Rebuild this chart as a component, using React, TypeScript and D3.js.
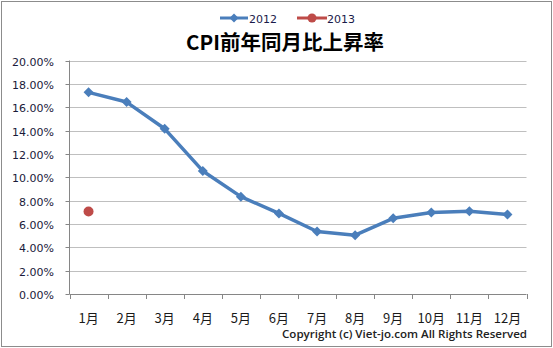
import React from "react";
import * as d3 from "d3";

const months = ["1月", "2月", "3月", "4月", "5月", "6月", "7月", "8月", "9月", "10月", "11月", "12月"];
const cpi2012 = [17.27, 16.44, 14.15, 10.54, 8.34, 6.9, 5.35, 5.04, 6.48, 6.98, 7.08, 6.81];
const cpi2013: (number | null)[] = [7.07, null, null, null, null, null, null, null, null, null, null, null];
const yTicks = [0, 2, 4, 6, 8, 10, 12, 14, 16, 18, 20];
const seriesNames = ["2012", "2013"];

const W = 553, H = 348;
const left = 69.5, right = 526.5, top = 60.5, bottom = 294;

export default function App() {
  const x = d3.scaleBand<string>().domain(months).range([left, right]);
  const y = d3.scaleLinear().domain([0, 20]).range([bottom, top]);
  const line = d3
    .line<number>()
    .x((_, i) => (x(months[i]) as number) + x.bandwidth() / 2)
    .y((d) => y(d));
  const cx = (i: number) => (x(months[i]) as number) + x.bandwidth() / 2;
  const blue = "#4a7ebb";
  const red = "#be4b48";
  const font = "'DejaVu Sans', Verdana, sans-serif";
  const diamond = (px: number, py: number, r = 5) =>
    `M${px},${py - r}L${px + r},${py}L${px},${py + r}L${px - r},${py}Z`;
  const boundaries = d3.range(months.length + 1).map((i) => left + i * x.step());

  return (
    <svg width={W} height={H} style={{ position: "absolute", left: 0, top: 0 }}>
      <rect x={0} y={0} width={W} height={H} fill="#fff" />
      <rect x={1.5} y={1.5} width={W - 3} height={H - 3} fill="none" stroke="#8c8c8c" strokeWidth={1} />
      {/* legend */}
      <g>
        <line x1={220} x2={248} y1={18} y2={18} stroke={blue} strokeWidth={3} />
        <path d={diamond(234, 18, 4.5)} fill={blue} />
        <text x={249} y={22.5} fontFamily={font} fontSize={11} fill="#1a1a4a">{seriesNames[0]}</text>
        <line x1={297} x2={327} y1={18} y2={18} stroke={red} strokeWidth={3} />
        <circle cx={312} cy={18} r={4.5} fill={red} />
        <text x={327} y={22.5} fontFamily={font} fontSize={11} fill="#1a1a4a">{seriesNames[1]}</text>
      </g>
      {/* title */}
      <text x={285} y={50} textAnchor="middle" fontFamily="'Noto Sans CJK JP', 'Noto Sans', sans-serif" fontWeight="bold" fontSize={20.5} fill="#000">
        CPI前年同月比上昇率
      </text>
      {/* gridlines */}
      {yTicks.filter((t) => t > 0).map((t) => (
        <line key={t} x1={left} x2={right} y1={Math.round(y(t)) + 0.5} y2={Math.round(y(t)) + 0.5} stroke="#bfbfbf" strokeWidth={1} />
      ))}
      {/* y axis */}
      <line x1={left} x2={left} y1={top} y2={bottom} stroke="#868686" />
      {yTicks.map((t) => (
        <g key={t}>
          <line x1={left - 4} x2={left} y1={Math.round(y(t)) + 0.5} y2={Math.round(y(t)) + 0.5} stroke="#868686" />
          <text x={54} y={Math.round(y(t)) + 4.5} textAnchor="end" fontFamily={font} fontSize={11} fill="#1a1a3a">
            {t.toFixed(2) + "%"}
          </text>
        </g>
      ))}
      {/* x axis */}
      <line x1={left} x2={right} y1={Math.round(bottom) + 0.5} y2={Math.round(bottom) + 0.5} stroke="#868686" />
      {boundaries.map((bx, i) => (
        <line key={i} x1={Math.round(bx) + 0.5} x2={Math.round(bx) + 0.5} y1={bottom} y2={bottom + 5} stroke="#868686" />
      ))}
      {months.map((m, i) => (
        <text key={m} x={cx(i)} y={323} textAnchor="middle" fontFamily="'Noto Sans CJK JP', sans-serif" fontSize={13} fill="#1a1a1a">
          {m}
        </text>
      ))}
      {/* series 2012 */}
      <path d={line(cpi2012) || ""} fill="none" stroke={blue} strokeWidth={3.5} strokeLinejoin="round" />
      {cpi2012.map((v, i) => (
        <path key={i} d={diamond(cx(i), y(v))} fill={blue} />
      ))}
      {/* series 2013 */}
      {cpi2013.map((v, i) =>
        v == null ? null : <circle key={i} cx={cx(i)} cy={y(v)} r={5} fill={red} />
      )}
      {/* copyright */}
      <text x={527} y={338} textAnchor="end" fontFamily="'Open Sans', sans-serif" fontWeight="600" fontSize={10.5} fill="#222" textLength={245} lengthAdjust="spacingAndGlyphs">
        Copyright (c) Viet-jo.com All Rights Reserved
      </text>
    </svg>
  );
}
